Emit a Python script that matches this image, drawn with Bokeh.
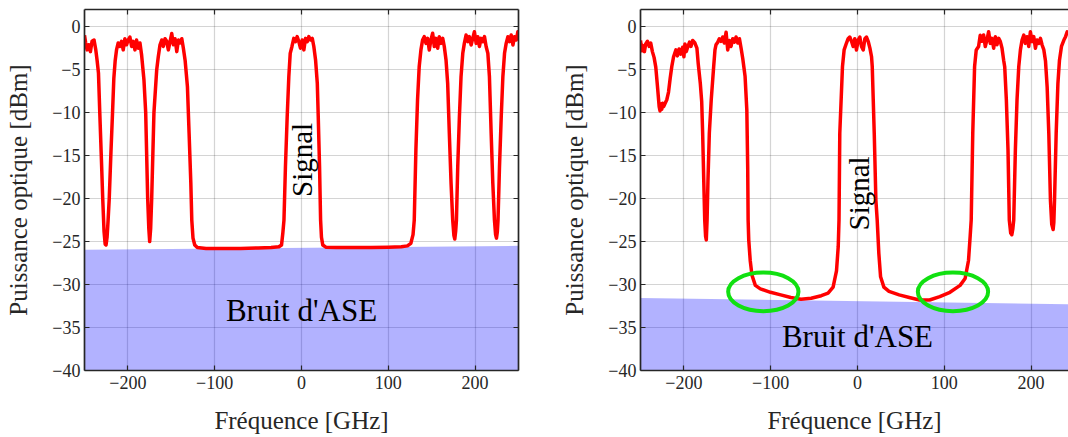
from math import pi
from bokeh.plotting import figure
from bokeh.layouts import row
from bokeh.models import LinearAxis, FixedTicker, Range1d
from bokeh.core.properties import value
from bokeh.embed import file_html
from bokeh.resources import INLINE

# ---------------- data ----------------
x_ticks = [-200, -100, 0, 100, 200]
y_ticks = [-40, -35, -30, -25, -20, -15, -10, -5, 0]

freq_left = [
    -250, -248.6, -247, -245.1, -243.2, -241.3, -239, -237, -235.5, -233.9,
    -232.4, -230.5, -229, -227.5, -226.2, -225.2, -224, -222.8, -221.5, -219.5,
    -217.7, -216.2, -214.7, -213.1, -211.2, -209.2, -207.3, -205.4, -203.5, -201.5,
    -199.7, -197.7, -195.7, -193.9, -191.9, -190, -188.1, -186.1, -184.2, -181.5,
    -179.5, -177.2, -175.9, -174.9, -173.8, -172.6, -170, -166.8, -165, -163,
    -161, -159.2, -157.2, -155.3, -153.4, -151.4, -149.5, -147.6, -145.7, -143.7,
    -141.8, -139.9, -137.9, -136.1, -134.1, -131.4, -129.5, -127.5, -126.4, -125,
    -123, -120, -110, -90, -70, -50, -35, -26, -23, -21.5,
    -20.2, -18.5, -16.5, -14.6, -13, -11, -8.9, -6.9, -5.0, -3.1,
    -1.2, 0.8, 2.7, 4.6, 6.6, 8.4, 10.4, 12.4, 14.2, 16.2,
    18.2, 19.3, 20.8, 22, 23, 24.5, 28, 40, 60, 80,
    100, 115, 122, 126, 128.5, 129.9, 131.8, 133.7, 135.6, 137.6,
    139.5, 141.4, 143.4, 145.3, 147.2, 149.1, 151.1, 153, 154.9, 156.9,
    158.7, 160.7, 162.7, 164.5, 166.5, 168.4, 170.3, 172.3, 174.2, 175.6,
    176.6, 177.6, 178.5, 180, 181.9, 183.8, 185.8, 187.6, 189.6, 191.6,
    193.4, 195.4, 197.3, 199.2, 201.2, 203.1, 205, 206.9, 208.9, 210.8,
    212.7, 214.7, 216.5, 218.5, 220.4, 222.3, 223.6, 224.6, 225.6, 226.4,
    228.1, 230.1, 232, 233.9, 235.8, 237.8, 239.7, 241.6, 243.6, 245.4,
    247.4, 249.3, 250,
]
power_left = [
    -1.0, -1.9, -2.7, -2.1, -2.9, -1.7, -1.55, -2.7, -3.9, -5.4,
    -10.0, -15.5, -20.0, -23.8, -25.3, -25.4, -24.5, -22.5, -20.0, -14.5,
    -10.0, -6.0, -4.0, -2.7, -1.9, -2.3, -1.7, -2.7, -1.4, -2.1,
    -1.55, -1.2, -2.3, -1.7, -2.7, -1.55, -2.5, -1.9, -3.3, -6.2,
    -10.0, -20.0, -23.5, -25.0, -23.5, -20.0, -10.0, -5.0, -3.5, -2.1,
    -1.55, -2.3, -1.4, -1.7, -2.7, -1.7, -0.8, -2.1, -1.4, -2.9,
    -1.55, -1.9, -1.4, -2.5, -3.9, -7.0, -12.4, -18.2, -22.5, -24.6,
    -25.4, -25.7, -25.8, -25.8, -25.8, -25.75, -25.7, -25.6, -25.4, -24.0,
    -22.5, -16.3, -10.5, -5.8, -3.1, -2.3, -1.36, -1.74, -1.16, -1.74,
    -2.5, -1.55, -2.7, -1.36, -1.74, -1.16, -1.55, -1.36, -2.3, -3.87,
    -6.6, -10.5, -16.3, -22.5, -24.5, -25.4, -25.65, -25.7, -25.7, -25.7,
    -25.65, -25.6, -25.5, -25.2, -24.2, -22.5, -14.3, -8.5, -4.65, -2.7,
    -1.55, -1.16, -1.94, -1.36, -2.7, -1.55, -0.77, -2.3, -1.36, -2.5,
    -1.16, -1.94, -1.36, -2.3, -3.87, -6.6, -12.4, -18.2, -22.5, -24.3,
    -24.7, -23.8, -22.5, -16.3, -10.5, -5.8, -3.1, -1.94, -0.97, -1.74,
    -1.16, -2.13, -1.36, -0.58, -1.94, -1.16, -2.3, -1.36, -1.74, -1.16,
    -2.3, -3.1, -5.8, -12.4, -18.2, -22.5, -24.2, -24.6, -23.9, -22.5,
    -16.3, -10.5, -5.8, -3.1, -1.94, -1.16, -1.74, -0.97, -2.13, -1.16,
    -1.55, -0.58, -0.9,
]

freq_right = [
    -250, -248.5, -247, -245.5, -244, -242, -240, -238.2, -236.3, -234.3,
    -232.4, -230.4, -228.5, -227.5, -226.6, -225.5, -224.6, -223.3, -222, -219.7,
    -217.7, -215.8, -213.9, -211.9, -209.2, -207.5, -205.5, -203.5, -201.5, -200,
    -198.8, -197.2, -195.7, -193.5, -191.9, -189.9, -187.3, -185, -183.5, -181.1,
    -179.5, -178.4, -177.1, -176, -175, -174.2, -173.3, -172.3, -170.7, -168.5,
    -165.7, -164.2, -163, -161, -159.2, -157.2, -155.3, -153.4, -151.4, -149.5,
    -147.6, -145.7, -143.7, -141.8, -139.9, -137.9, -136, -134.1, -132.2, -129.5,
    -127.5, -126.5, -126, -125.3, -123.6, -121.6, -117.7, -111.9, -100.2, -88.5,
    -76.8, -65.1, -53.4, -41.7, -33.9, -28.1, -24.2, -22.2, -21.3, -20.4,
    -17.3, -15.4, -12.7, -10.8, -8.9, -6.9, -5.0, -3.1, -1.2, 0.8,
    2.7, 4.6, 6.6, 8.5, 10.4, 12.3, 14.3, 16.2, 17, 19.3,
    21.2, 22.7, 24.6, 26.6, 30.4, 36.3, 48, 59.7, 71.4, 83.1,
    94.8, 106.5, 118.2, 124, 127.9, 129.8, 131, 132.8, 134.9, 136.8,
    139.5, 141.4, 143.4, 145.3, 147.2, 149.1, 151.1, 153, 154.9, 156.9,
    158.8, 160.7, 162.7, 164.6, 166.5, 168.4, 169.6, 171.5, 173.4, 174.9,
    176.5, 177.8, 179, 180, 181.9, 183.8, 185.8, 187.7, 189.6, 191.6,
    193.4, 195.4, 197.3, 199.2, 201.2, 203.1, 205, 206.9, 208.9, 210.8,
    212.7, 214.7, 216.6, 218.5, 220.4, 222.3, 223.8, 225.4, 226.2, 227,
    228.9, 230.9, 232.7, 235, 237.8, 239.7, 241.6, 243.6, 245, 247,
    250,
]
power_right = [
    -1.6, -2.8, -2.2, -2.9, -2.0, -1.7, -2.3, -1.9, -2.9, -3.6,
    -4.7, -7.0, -9.3, -9.8, -9.0, -9.6, -8.9, -9.3, -9.0, -8.5,
    -7.6, -6.0, -4.6, -3.5, -2.7, -3.4, -2.6, -3.2, -2.4, -3.5,
    -2.0, -2.9, -2.4, -1.8, -2.3, -1.6, -1.9, -2.5, -4.3, -6.6,
    -8.7, -12.4, -18.0, -22.5, -24.4, -24.8, -22.5, -18.0, -12.4, -8.5,
    -4.65, -2.7, -2.1, -1.8, -1.4, -1.7, -1.2, -1.9, -0.65, -2.7,
    -1.6, -2.3, -1.4, -1.8, -1.2, -1.9, -1.4, -2.5, -3.7, -5.8,
    -9.7, -16.3, -22.5, -24.8, -27.2, -28.9, -30.1, -30.5, -30.9, -31.2,
    -31.5, -31.7, -31.6, -31.3, -31.0, -30.3, -28.4, -25.6, -22.5, -12.4,
    -4.65, -2.7, -1.9, -1.4, -1.2, -1.7, -2.3, -1.4, -2.7, -1.55,
    -1.2, -2.3, -2.7, -1.4, -1.2, -1.7, -2.5, -3.5, -4.65, -12.4,
    -20.2, -22.5, -26.4, -29.1, -30.3, -30.8, -31.2, -31.5, -31.8, -31.8,
    -31.4, -30.9, -30.1, -29.3, -27.2, -24.4, -22.5, -12.4, -4.65, -2.7,
    -2.3, -1.0, -1.7, -0.97, -2.3, -1.55, -0.58, -1.94, -1.36, -2.5,
    -1.16, -2.1, -1.36, -1.74, -2.5, -3.9, -4.65, -8.5, -14.3, -22.5,
    -24.0, -24.2, -23.5, -22.5, -14.3, -8.5, -4.65, -2.7, -1.55, -0.97,
    -1.94, -1.16, -2.3, -0.58, -1.74, -1.16, -2.5, -1.55, -1.94, -1.36,
    -2.13, -2.7, -4.0, -7.0, -12.4, -20.2, -23.0, -23.6, -22.8, -20.2,
    -12.4, -6.6, -3.9, -2.3, -1.55, -1.16, -0.6, -0.8, -0.6, -1.2,
    -0.9,
]

# ASE noise floor (top edge of the shaded area)
ase_freq = [-250, 250]
ase_top_left = [-25.95, -25.5]
ase_top_right = [-31.57, -32.3]
ase_bottom = [-40, -40]

# annotations
signal_label_left = (0, -15.5)
signal_label_right = (2, -19.4)
ase_label_left = (0, -33.0)
ase_label_right = (0, -36.0)
circle_x = [-108.5, 110]
circle_y = [-30.85, -30.85]
circle_w = [81, 81]
circle_h = [4.5, 4.5]

# ---------------- styling ----------------
FONT = "Liberation Serif"
AX_COL = "#262626"
H = 437
TOP = 9
FRAME_H = 361


def style_axis(ax, ticks, labels=True):
    ax.ticker = FixedTicker(ticks=ticks)
    ax.major_tick_in = 5
    ax.major_tick_out = 0
    ax.minor_tick_line_color = None
    ax.axis_line_color = AX_COL
    ax.axis_line_width = 1.7
    ax.major_tick_line_color = AX_COL
    ax.major_tick_line_width = 1.2
    if labels:
        ax.major_label_text_font = FONT
        ax.major_label_text_font_size = "18px"
        ax.major_label_text_color = AX_COL
        ax.axis_label_text_font = FONT
        ax.axis_label_text_font_size = "25px"
        ax.axis_label_text_font_style = "normal"
        ax.axis_label_text_color = AX_COL
    else:
        ax.major_label_overrides = {t: "" for t in ticks}
        ax.major_label_text_font_size = "1px"
        ax.major_label_standoff = 0


def make_fig(width, x_end, border_right, right_axis, freq, power, ase_top,
             sig_lbl, ase_lbl, circles):
    p = figure(width=width, height=H, x_range=Range1d(-250, x_end),
               y_range=Range1d(-40, 2), output_backend="svg",
               toolbar_location=None, min_border_left=84,
               min_border_right=border_right, min_border_top=TOP,
               min_border_bottom=H - TOP - FRAME_H)
    p.outline_line_color = None
    p.background_fill_color = "white"
    p.border_fill_color = "white"

    xa = p.below[0]
    style_axis(xa, x_ticks)
    xa.axis_label = "Fréquence [GHz]"
    xa.major_label_standoff = 5
    xa.axis_label_standoff = 15
    ya = p.left[0]
    style_axis(ya, y_ticks)
    ya.axis_label = "Puissance optique [dBm]"
    ya.major_label_standoff = 4
    ya.axis_label_standoff = 17

    top = LinearAxis()
    style_axis(top, x_ticks, labels=False)
    p.add_layout(top, "above")
    if right_axis:
        ra = LinearAxis()
        style_axis(ra, y_ticks, labels=False)
        p.add_layout(ra, "right")

    p.xgrid.ticker = FixedTicker(ticks=x_ticks)
    p.ygrid.ticker = FixedTicker(ticks=y_ticks)
    for g in (p.xgrid[0], p.ygrid[0]):
        g.grid_line_color = AX_COL
        g.grid_line_alpha = 0.2
        g.grid_line_width = 1.2

    p.varea(x=ase_freq, y1=ase_bottom, y2=ase_top, fill_color="blue",
            fill_alpha=0.3)
    p.line(freq, power, line_color="#ff0000", line_width=3.5,
           line_join="round")

    p.text(x=[sig_lbl[0]], y=[sig_lbl[1]], text=["Signal"], angle=pi / 2,
           text_align="center", text_baseline="middle",
           text_font=value(FONT), text_font_size="29px", text_color="black")
    p.text(x=[ase_lbl[0]], y=[ase_lbl[1]], text=["Bruit d'ASE"],
           text_align="center", text_baseline="alphabetic",
           text_font=value(FONT), text_font_size="31px", text_color="black")
    if circles:
        p.ellipse(x=circle_x, y=circle_y, width=circle_w, height=circle_h,
                  fill_color=None, line_color="#11e011", line_width=4)
    return p


p1 = make_fig(556, 250, 38, True, freq_left, power_left, ase_top_left,
              signal_label_left, ase_label_left, False)
p2 = make_fig(512, 243.1, 0, False, freq_right, power_right, ase_top_right,
              signal_label_right, ase_label_right, True)

layout = row(p1, p2)
open("out.html", "w").write(file_html(layout, INLINE))
